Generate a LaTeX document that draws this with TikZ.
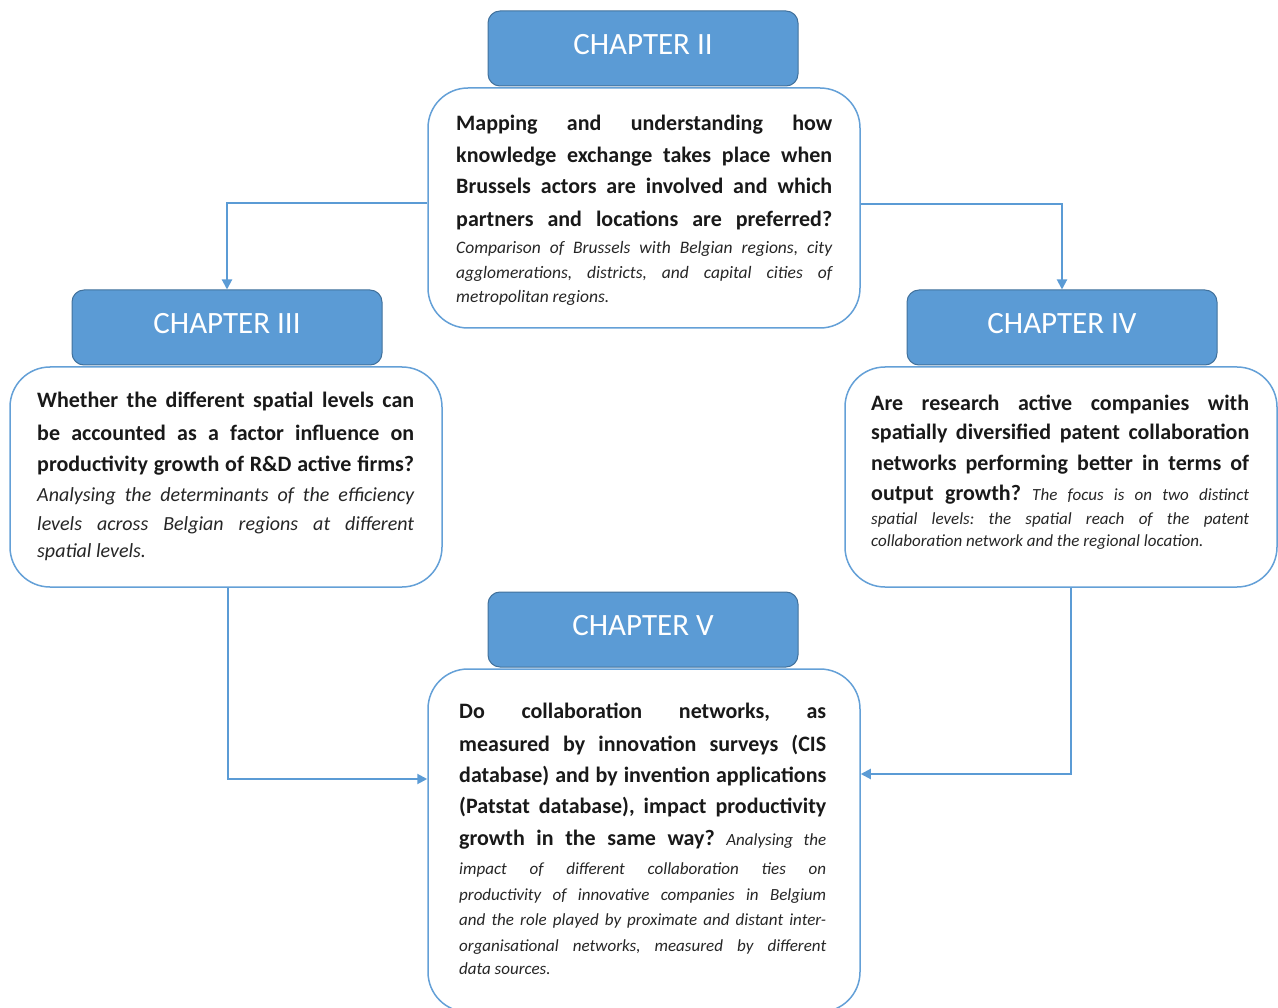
\documentclass[tikz,border=0pt]{standalone}
\usepackage{fontspec}
\setmainfont{Carlito}
\usetikzlibrary{arrows.meta,calc}
\definecolor{hdrfill}{RGB}{91,155,213}
\definecolor{hdrline}{RGB}{65,113,156}
\definecolor{boxline}{RGB}{100,160,215}
\definecolor{conncol}{RGB}{91,155,213}
\newdimen\qw
\newcommand\Bt[1]{{\fontsize{22}{22}\selectfont\bfseries
  \spaceskip=\fontdimen2\font plus 1fil minus \fontdimen4\font\relax #1}}
\newcommand\It[2]{{\fontsize{#1}{#1}\selectfont\itshape\color{black!85}%
  \spaceskip=\fontdimen2\font plus 1fil minus \fontdimen4\font\relax #2}}
\newcommand\Lf[1]{\lineskiplimit=-1000pt\relax\frenchspacing\noindent\hbox to \qw{#1}}
\newcommand\Lj[2]{\par\noindent\hbox to \qw{#2}\baselineskip=#1pt\relax}
\newcommand\Lr[2]{\par\noindent\hbox to \qw{#2\hfill}\baselineskip=#1pt\relax\par}
\tikzset{
  hdr/.style={draw=hdrline, line width=1pt, fill=hdrfill, rounded corners=12pt,
    minimum width=310pt, minimum height=75pt, text=white,
    font=\fontsize{31}{31}\selectfont, text depth=8pt, inner sep=0pt},
  qbox/.style={draw=boxline, line width=1.5pt, fill=white, rounded corners=40pt,
    minimum width=432pt, inner sep=0pt},
  qtext/.style={anchor=base west, inner sep=0pt, text=black!90,
    font=\fontsize{17}{17}\selectfont},
  conn/.style={draw=conncol, line width=2pt, -{Triangle[length=10pt,width=10pt]}},
}
\begin{document}
\begin{tikzpicture}[x=1pt,y=-1pt]
\useasboundingbox (0,0) rectangle (1278,1008);
% boxes
\node[qbox, minimum height=240pt] (b2) at (644,208) {};
\node[qbox, minimum height=220pt] (b3) at (226,477) {};
\node[qbox, minimum height=220pt] (b4) at (1061,477) {};
\node[qbox, minimum height=343pt] (b5) at (644,840.5) {};
% headers
\node[hdr] (h2) at (643,48.5) {CHAPTER II};
\node[hdr] (h3) at (227,327.5) {CHAPTER III};
\node[hdr] (h4) at (1062,327.5) {CHAPTER IV};
\node[hdr] (h5) at (643,629.5) {CHAPTER V};
% texts
\node[qtext, text width=376pt] (t2) at (456,131) {\qw=376pt\relax
\Lf{\Bt{Mapping and understanding how}}%
\Lj{32}{\Bt{knowledge exchange takes place when}}%
\Lj{31}{\Bt{Brussels actors are involved and which}}%
\Lj{33}{\Bt{partners and locations are preferred?}}%
\Lj{27}{\It{17.5}{Comparison of Brussels with Belgian regions, city}}%
\Lj{25}{\It{17.5}{agglomerations, districts, and capital cities of}}%
\Lr{24}{\It{17.5}{metropolitan regions.}}};
\node[qtext, text width=377pt] (t3) at (37,408) {\qw=377pt\relax
\Lf{\Bt{Whether the different spatial levels can}}%
\Lj{33}{\Bt{be accounted as a factor influence on}}%
\Lj{31}{\Bt{productivity growth of R\&D active firms?}}%
\Lj{30}{\It{20}{Analysing the determinants of the efficiency}}%
\Lj{29}{\It{20}{levels across Belgian regions at different}}%
\Lr{27}{\It{20}{spatial levels.}}};
\node[qtext, text width=378pt] (t4) at (871,410) {\qw=378pt\relax
\Lf{\Bt{Are research active companies with}}%
\Lj{29}{\Bt{spatially diversified patent collaboration}}%
\Lj{31}{\Bt{networks performing better in terms of}}%
\Lj{30}{\Bt{output growth? }\It{17}{The focus is on two distinct}}%
\Lj{25}{\It{17}{spatial levels: the spatial reach of the patent}}%
\Lr{22}{\It{17}{collaboration network and the regional location.}}};
\node[qtext, text width=367pt] (t5) at (459,718) {\qw=367pt\relax
\Lf{\Bt{Do collaboration networks, as}}%
\Lj{33}{\Bt{measured by innovation surveys (CIS}}%
\Lj{31}{\Bt{database) and by invention applications}}%
\Lj{31}{\Bt{(Patstat database), impact productivity}}%
\Lj{32}{\Bt{growth in the same way? }\It{17}{Analysing the}}%
\Lj{29}{\It{17}{impact of different collaboration ties on}}%
\Lj{26}{\It{17}{productivity of innovative companies in Belgium}}%
\Lj{25}{\It{17}{and the role played by proximate and distant inter-}}%
\Lj{26}{\It{17}{organisational networks, measured by different}}%
\Lr{23}{\It{17}{data sources.}}};
% connectors
\draw[conn] ([yshift=5pt]b2.west) -| (h3.north);
\draw[conn] ([yshift=4pt]b2.east) -| (h4.north);
\draw[conn] ([xshift=2pt]b3.south) |- ([yshift=61.5pt]b5.west);
\draw[conn] ([xshift=10pt]b4.south) |- ([yshift=66.5pt]b5.east);
\end{tikzpicture}
\end{document}
